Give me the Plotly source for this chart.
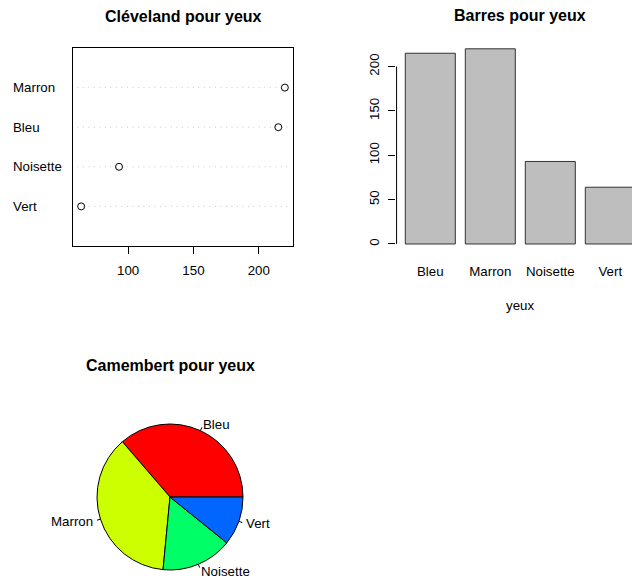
import numpy as np
import plotly.graph_objects as go

# Eye colour counts
yeux = ["Bleu", "Marron", "Noisette", "Vert"]
effectifs = [215, 220, 93, 64]
pie_colors = ["#FF0000", "#CCFF00", "#00FF66", "#0066FF"]
bar_ticks = [0, 50, 100, 150, 200]
dot_ticks = [100, 150, 200]

W, H = 632, 582
FONT = "Liberation Sans, Arial, sans-serif"
BASE = 13.3


def px_x(a, b):
    return [a / W, b / W]


def px_y(top, bottom):
    return [1 - bottom / H, 1 - top / H]


fig = go.Figure()

# ---------------- Cleveland dot chart (sorted ascending, bottom to top) ----
order = np.argsort(effectifs)
dot_names = [yeux[i] for i in order]
dot_vals = [effectifs[i] for i in order]
dot_pos = list(range(1, len(dot_vals) + 1))
span = max(dot_vals) - min(dot_vals)
dot_range = [min(dot_vals) - 0.04 * span, max(dot_vals) + 0.04 * span]

for p in dot_pos:
    fig.add_shape(type="line", xref="x domain", yref="y", x0=0.02, x1=0.99, y0=p, y1=p,
                  line=dict(color="#C8C8C8", width=1, dash="1px,4.5px"), layer="below")

fig.add_trace(go.Scatter(x=dot_vals, y=dot_pos, mode="markers", xaxis="x", yaxis="y",
                         marker=dict(symbol="circle-open", size=7, color="black",
                                     line=dict(width=1, color="black")),
                         showlegend=False, hoverinfo="x+text", text=dot_names))

for name, p in zip(dot_names, dot_pos):
    fig.add_annotation(x=13 / W, xref="paper", y=p, yref="y", text=name, xshift=-2,
                       xanchor="left", yanchor="middle", showarrow=False,
                       font=dict(size=BASE, color="black", family=FONT))

# ---------------- Bar chart ------------------------------------------------
bar_x = [0.2 + i * 1.2 + 0.5 for i in range(len(yeux))]
ymax = max(effectifs)
fig.add_trace(go.Bar(x=bar_x, y=effectifs, width=1.0, xaxis="x2", yaxis="y2",
                     marker=dict(color="#BEBEBE", line=dict(color="#333333", width=1)),
                     showlegend=False, hoverinfo="y"))
fig.add_shape(type="line", xref="x2 domain", yref="y2", x0=0.002, x1=0.002,
              y0=bar_ticks[0], y1=bar_ticks[-1], line=dict(color="black", width=1))
fig.add_annotation(x=520 / W, xref="paper", y=1 - 305 / H, yref="paper", text="yeux",
                   showarrow=False, xanchor="center", yanchor="middle",
                   font=dict(size=BASE, color="black", family=FONT))

# ---------------- Pie chart ------------------------------------------------
# pie of radius 73 px centred at (170, 497); overlay axes in radius units
R = 73
CX, CY = 170, 497
pie_dom_x = px_x(CX - R, CX + R)
pie_dom_y = px_y(CY - R, CY + R)
ov_x = [-1.5, 1.5]
ov_y = [-1.12, 1.2]
ov_dom_x = px_x(CX + ov_x[0] * R, CX + ov_x[1] * R)
ov_dom_y = px_y(CY - ov_y[1] * R, CY - ov_y[0] * R)

vals = np.array(effectifs, dtype=float)
frac = vals / vals.sum()
# first slice runs counterclockwise from 3 o'clock
first_end_deg = 360 * frac[0]
fig.add_trace(go.Pie(labels=yeux, values=effectifs, sort=False, direction="counterclockwise",
                     rotation=90 - first_end_deg, textinfo="none",
                     domain=dict(x=pie_dom_x, y=pie_dom_y),
                     marker=dict(colors=pie_colors, line=dict(color="black", width=1)),
                     showlegend=False, hoverinfo="label+value"))

cum = np.concatenate([[0], np.cumsum(frac)]) * 2 * np.pi
for name, a0, a1 in zip(yeux, cum[:-1], cum[1:]):
    mid = (a0 + a1) / 2
    c, s = np.cos(mid), np.sin(mid)
    fig.add_shape(type="line", xref="x3", yref="y3", x0=c, y0=s, x1=1.05 * c, y1=1.05 * s,
                  line=dict(color="black", width=1))
    fig.add_annotation(x=1.1 * c, y=1.1 * s, xref="x3", yref="y3", text=name,
                       showarrow=False, xanchor="right" if c < 0 else "left",
                       xshift=2 if c < 0 else -2,
                       yanchor="middle", font=dict(size=BASE, color="black", family=FONT))

# ---------------- Titles ---------------------------------------------------
for t, x, y in [("Cléveland pour yeux", 183, 16), ("Barres pour yeux", 520, 15),
                ("Camembert pour yeux", 170, 365)]:
    fig.add_annotation(x=x / W, y=1 - y / H, xref="paper", yref="paper",
                       text=f"<b>{t}</b>", showarrow=False, xanchor="center",
                       yanchor="middle", font=dict(size=16, color="black", family=FONT))

axis_font = dict(size=BASE, color="black", family=FONT)
fig.update_layout(
    width=W, height=H, margin=dict(l=0, r=0, t=0, b=0),
    paper_bgcolor="white", plot_bgcolor="white",
    font=dict(family=FONT, size=BASE, color="black"),
    xaxis=dict(domain=px_x(73, 293), range=dot_range, anchor="y", showgrid=False,
               zeroline=False, showline=True, mirror=True, linecolor="black", linewidth=1,
               tickmode="array", tickvals=dot_ticks, ticks="outside", ticklen=7,
               tickcolor="black", tickfont=axis_font, ticklabelstandoff=5),
    yaxis=dict(domain=px_y(48, 246), range=[0, len(dot_vals) + 1], anchor="x",
               showgrid=False, zeroline=False, showline=True, mirror=True,
               linecolor="black", linewidth=1, showticklabels=False, ticks=""),
    xaxis2=dict(domain=[396.1 / W, 1], range=[0.016, 0.016 + (W - 396.1) / 50], anchor="y2",
                showgrid=False, zeroline=False, showline=False, ticks="",
                tickmode="array", tickvals=bar_x, ticktext=yeux, tickfont=axis_font,
                ticklabelstandoff=10),
    yaxis2=dict(domain=px_y(41, 251.8), range=[-0.04 * ymax, 1.04 * ymax], anchor="x2",
                showgrid=False, zeroline=False, showline=False, tickmode="array",
                tickvals=bar_ticks, ticks="outside", ticklen=7, tickcolor="black",
                tickangle=-90, tickfont=axis_font, ticklabelstandoff=4),
    xaxis3=dict(domain=ov_dom_x, range=ov_x, anchor="y3", visible=False, fixedrange=True),
    yaxis3=dict(domain=ov_dom_y, range=ov_y, anchor="x3", visible=False, fixedrange=True),
)

fig.write_html("out.html")
